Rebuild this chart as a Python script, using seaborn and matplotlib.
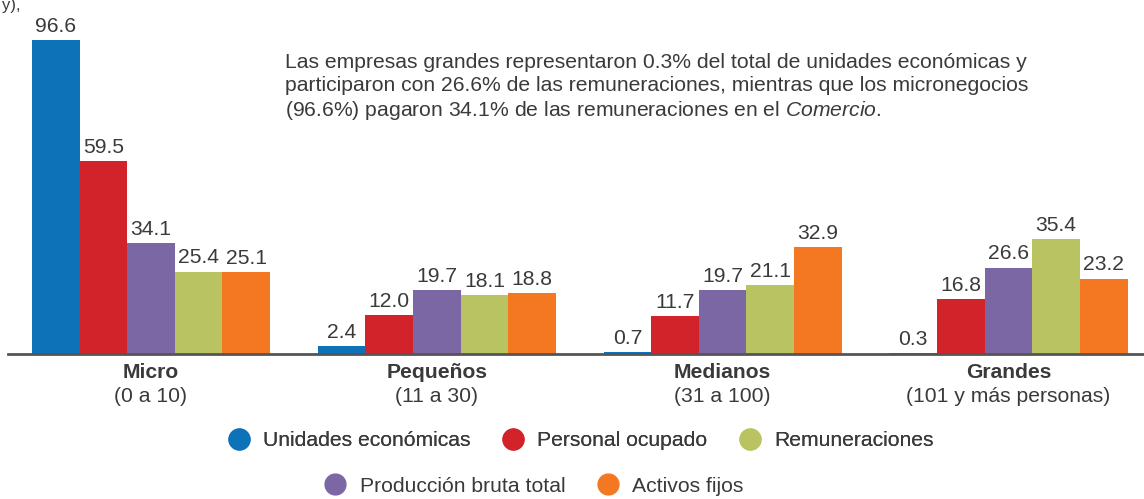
"""
Distribución por tamaño de empresa en el Comercio (barras agrupadas).
"""

import pandas as pd
import matplotlib.pyplot as plt
import matplotlib.transforms as mtransforms
from matplotlib.lines import Line2D
import seaborn as sns

# Datos
tamanos = ["Micro", "Pequeños", "Medianos", "Grandes"]
rangos = ["(0 a 10)", "(11 a 30)", "(31 a 100)", "(101 y más personas)"]
series = [
    "Unidades económicas",
    "Personal ocupado",
    "Producción bruta total",
    "Remuneraciones",
    "Activos fijos",
]
unidades = [96.6, 2.4, 0.7, 0.3]
personal = [59.5, 12.0, 11.7, 16.8]
produccion = [34.1, 19.7, 19.7, 26.6]
remuneraciones = [25.4, 18.1, 21.1, 35.4]
activos = [25.1, 18.8, 32.9, 23.2]

colores = ["#0E72B9", "#D2232A", "#7C67A5", "#B9C361", "#F47821"]
nota = (
    "Las empresas grandes representaron 0.3% del total de unidades económicas y\n"
    "participaron con 26.6% de las remuneraciones, mientras que los micronegocios\n"
    "(96.6%) pagaron 34.1% de las remuneraciones en el $\\mathit{Comercio}$."
)

valores = [unidades, personal, produccion, remuneraciones, activos]
rows = []
for serie, vals in zip(series, valores):
    for tam, v in zip(tamanos, vals):
        rows.append({"tamano": tam, "serie": serie, "valor": v})
df = pd.DataFrame(rows)

sns.set_style("white")
plt.rcParams["font.family"] = ["Liberation Sans", "DejaVu Sans"]
plt.rcParams["mathtext.fontset"] = "custom"
plt.rcParams["mathtext.rm"] = "Liberation Sans"
plt.rcParams["mathtext.it"] = "Liberation Sans:italic"
texto = "#3a3a3a"
fs = 15.2

fig = plt.figure(figsize=(11.44, 4.99), dpi=100)
ax = fig.add_axes([0.007, 1 - 354 / 499, 0.993, 354 / 499])

sns.barplot(
    data=df,
    x="tamano",
    y="valor",
    hue="serie",
    hue_order=series,
    order=tamanos,
    palette=colores,
    saturation=1,
    width=0.833,
    linewidth=0,
    legend=False,
    ax=ax,
)

for cont in ax.containers:
    ax.bar_label(cont, fmt="%.1f", padding=3, fontsize=fs, color=texto)

ax.set_xlim(-0.5, 3.474)
ax.set_ylim(0, 109)
ax.set_xlabel("")
ax.set_ylabel("")
ax.set_yticks([])
ax.set_xticks(range(len(tamanos)))
ax.set_xticklabels([])
ax.tick_params(axis="x", length=0)
for side in ["top", "right", "left"]:
    ax.spines[side].set_visible(False)
ax.spines["bottom"].set_color("#555555")
ax.spines["bottom"].set_linewidth(2)

trans = mtransforms.blended_transform_factory(ax.transData, fig.transFigure)
for i, (tam, rango) in enumerate(zip(tamanos, rangos)):
    ax.text(i, 1 - 372 / 499, tam, transform=trans, ha="center", va="center",
            fontsize=fs, fontweight="bold", color=texto)
    ax.text(i, 1 - 396 / 499, rango, transform=trans, ha="center", va="center",
            fontsize=fs, color=texto)

fig.text(285 / 1144, 1 - 88 / 499, nota, ha="left", va="center",
         fontsize=fs, color=texto, linespacing=1.25)

# resto del título de arriba
fig.text(2 / 1144, 1 - 10 / 499, "y),", ha="left", va="baseline",
         fontsize=12, color=texto)


def handle(c):
    return Line2D([], [], marker="o", linestyle="", markersize=15,
                  markerfacecolor=c, markeredgecolor=c)


orden1 = [0, 1, 3]
orden2 = [2, 4]
opts = dict(loc="center", frameon=False, fontsize=fs, handlelength=1.0,
            handletextpad=0.65, columnspacing=1.5, labelcolor=texto,
            borderpad=0, borderaxespad=0)
leg1 = fig.legend([handle(colores[i]) for i in orden1], [series[i] for i in orden1],
                  bbox_to_anchor=(581 / 1144, 1 - 441 / 499), ncol=3, **opts)
fig.add_artist(leg1)
fig.legend([handle(colores[i]) for i in orden2], [series[i] for i in orden2],
           bbox_to_anchor=(534 / 1144, 1 - 486 / 499), ncol=2, **opts)

fig.savefig("out.png", dpi=100)
